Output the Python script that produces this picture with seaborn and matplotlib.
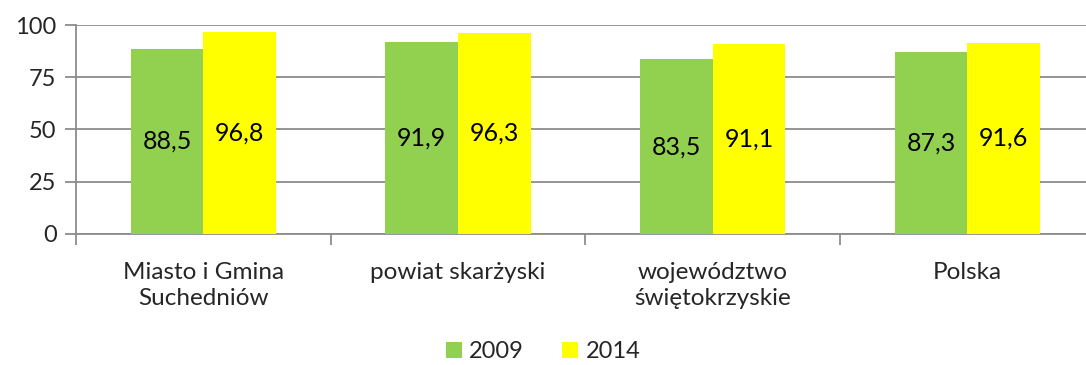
import matplotlib
matplotlib.use("Agg")
import matplotlib.pyplot as plt
import seaborn as sns
import pandas as pd
from matplotlib.ticker import FixedLocator

categories = ["Miasto i Gmina\nSuchedniów", "powiat skarżyski", "województwo\nświętokrzyskie", "Polska"]
years = ["2009", "2014"]
values_2009 = [88.5, 91.9, 83.5, 87.3]
values_2014 = [96.8, 96.3, 91.1, 91.6]
y_ticks = [0, 25, 50, 75, 100]

df = pd.DataFrame({
    "kategoria": categories * 2,
    "rok": [years[0]] * 4 + [years[1]] * 4,
    "wartosc": values_2009 + values_2014,
})

sns.set_theme(style="white")
plt.rcParams["font.family"] = ["Lato", "DejaVu Sans"]

fig = plt.figure(figsize=(10.86, 3.65), dpi=100)
ax = fig.add_axes([0.07, 0.359, 0.938, 0.5725])

palette = {"2009": "#92D050", "2014": "#FFFF00"}
sns.barplot(data=df, x="kategoria", y="wartosc", hue="rok", palette=palette,
            width=0.57, gap=0, saturation=1, linewidth=0, edgecolor="none",
            ax=ax, legend=True, zorder=3)

for container in ax.containers:
    labels = [f"{v:.1f}".replace(".", ",") for v in container.datavalues]
    ax.bar_label(container, labels=labels, label_type="center", fontsize=18, color="black")

ax.set_ylim(0, 100)
ax.set_xlim(-0.5, 3.5)
ax.set_yticks(y_ticks)
ax.set_yticklabels([str(t) for t in y_ticks], fontsize=17)
ax.yaxis.grid(True, color="#8c8c8c", linewidth=1.3, zorder=0)
ax.set_axisbelow(True)
ax.tick_params(axis="y", which="major", left=True, length=8, color="#8c8c8c", width=1.3, pad=6)

ax.tick_params(axis="x", which="major", length=0, labelsize=17.5, pad=20)
for lbl in ax.get_xticklabels():
    lbl.set_linespacing(1.3)
ax.xaxis.set_minor_locator(FixedLocator([-0.5, 0.5, 1.5, 2.5, 3.5]))
ax.tick_params(axis="x", which="minor", bottom=True, length=8, color="#8c8c8c", width=1.3)

for s in ["top", "right"]:
    ax.spines[s].set_visible(False)
ax.spines["left"].set_color("#8c8c8c")
ax.spines["left"].set_linewidth(1.3)
ax.spines["bottom"].set_color("#8c8c8c")
ax.spines["bottom"].set_linewidth(1.3)

ax.set_xlabel("")
ax.set_ylabel("")

handles, labels = ax.get_legend_handles_labels()
ax.get_legend().remove()
fig.legend(handles, labels, loc="center", bbox_to_anchor=(0.5, 0.036), ncol=2,
           frameon=False, fontsize=17, handlelength=0.7, handleheight=0.7,
           handletextpad=0.3, columnspacing=1.6)

fig.savefig("out.png", dpi=100)
